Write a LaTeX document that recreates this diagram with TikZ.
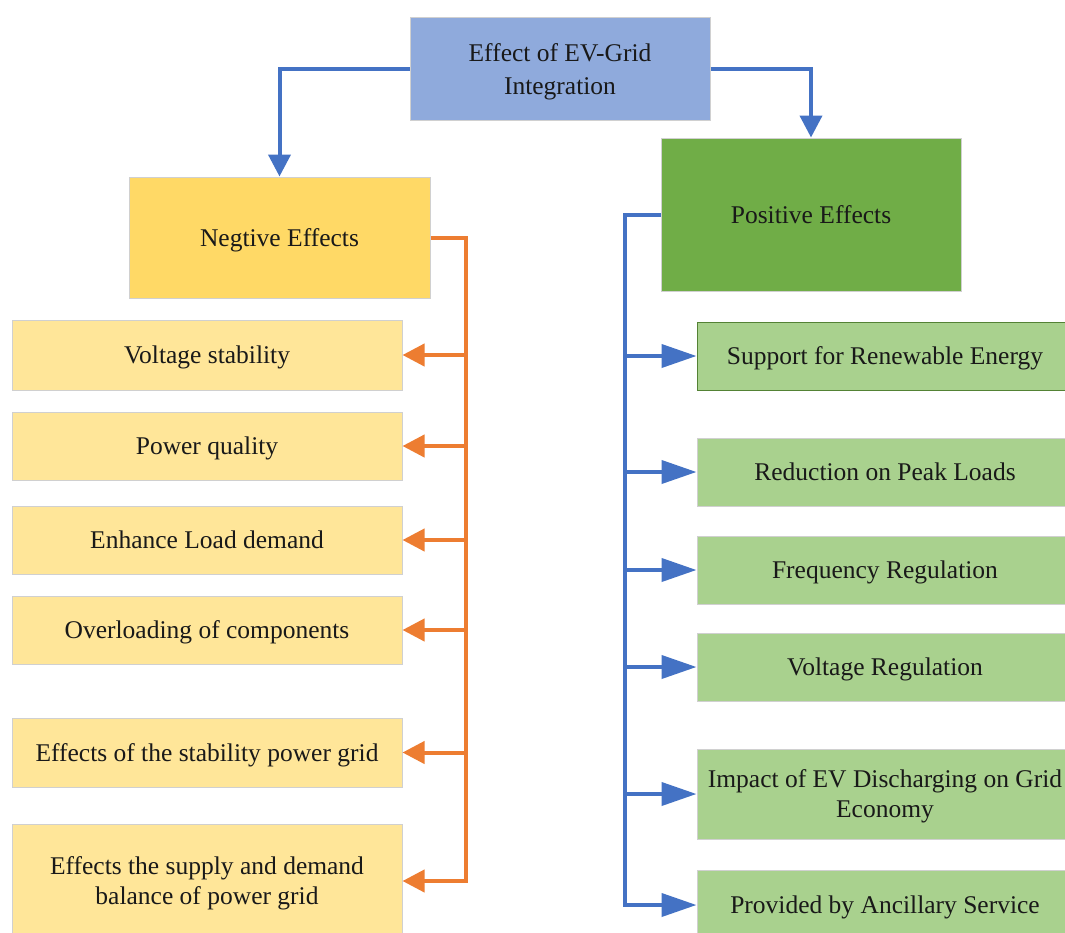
\documentclass[tikz,border=0pt]{standalone}
\usepackage{fontspec}
\setmainfont{Liberation Serif}
\usetikzlibrary{arrows.meta}
\definecolor{topblue}{HTML}{8FAADC}
\definecolor{negyel}{HTML}{FFD966}
\definecolor{litey}{HTML}{FFE699}
\definecolor{posgr}{HTML}{70AD47}
\definecolor{litegr}{HTML}{A9D18E}
\definecolor{lineblue}{HTML}{4472C4}
\definecolor{lineor}{HTML}{ED7D31}
\definecolor{edgegray}{HTML}{D0D0D0}
\definecolor{darkgr}{HTML}{548235}
\begin{document}
\begin{tikzpicture}[x=1pt,y=-1pt,
  box/.style={draw=edgegray,line width=1pt,inner sep=0pt,align=center,
    font=\fontsize{25.5}{30}\selectfont,text=black!90,
    text height=21pt,text depth=3.3pt},
  twoline/.style={text height=50pt,text depth=2.3pt},
  lbox/.style={box,fill=litey,minimum width=390pt},
  rbox/.style={box,fill=litegr,minimum width=376pt},
  bline/.style={draw=lineblue,line width=4pt},
  oline/.style={draw=lineor,line width=4pt},
  btip/.style={-{Triangle[length=22pt,width=22pt]}},
  blongtip/.style={-{Triangle[length=35pt,width=23pt]}},
  otip/.style={-{Triangle[length=22pt,width=22pt]}}]
\clip (0,0) rectangle (1065,932);
\fill[white] (0,0) rectangle (1065,932);

% top and main boxes
\node[box,font=\fontsize{25.5}{33}\selectfont,text height=56pt,text depth=3.3pt,fill=topblue,minimum width=300pt,minimum height=103pt] (top) at (560,68.5) {Effect of EV-Grid\\Integration};
\node[box,fill=negyel,minimum width=301pt,minimum height=121pt] (neg) at (279.5,237.5) {Negtive Effects};
\node[box,fill=posgr,minimum width=300pt,minimum height=153pt] (pos) at (811,214.5) {Positive Effects};

% left boxes
\node[lbox,minimum height=70pt] (l1) at (207,355) {Voltage stability};
\node[lbox,minimum height=68pt] (l2) at (207,446) {Power quality};
\node[lbox,minimum height=68pt] (l3) at (207,540) {Enhance Load demand};
\node[lbox,minimum height=68pt] (l4) at (207,630) {Overloading of components};
\node[lbox,minimum height=69pt] (l5) at (207,752.5) {Effects of the stability power grid};
\node[lbox,twoline,minimum height=114pt] (l6) at (207,881) {Effects the supply and demand\\balance of power grid};

% right boxes
\node[rbox,draw=darkgr,minimum height=68pt] (r1) at (885,356) {Support for Renewable Energy};
\node[rbox,minimum height=68pt] (r2) at (885,472) {Reduction on Peak Loads};
\node[rbox,minimum height=68pt] (r3) at (885,570) {Frequency Regulation};
\node[rbox,minimum height=68pt] (r4) at (885,667) {Voltage Regulation};
\node[rbox,twoline,minimum height=90pt] (r5) at (885,794) {Impact of EV Discharging on Grid\\Economy};
\node[rbox,minimum height=70pt] (r6) at (885,905) {Provided by Ancillary Service};

% top connectors
\draw[bline,btip] (top.west) -| (neg.north);
\draw[bline,btip] (top.east) -| (pos.north);

% negative trunk
\coordinate (ot) at (466,237.5);
\draw[oline,otip,line join=miter] (neg.east) -- (ot) |- (l6.east);
\foreach \n in {l1,l2,l3,l4,l5}
  \draw[oline,otip] (ot |- \n.east) -- (\n.east);

% positive trunk
\coordinate (bt) at (625,214.5);
\draw[bline,blongtip,line join=miter] (pos.west) -- (bt) |- (r6.west);
\foreach \n in {r1,r2,r3,r4,r5}
  \draw[bline,blongtip] (bt |- \n.west) -- (\n.west);
\end{tikzpicture}
\end{document}
